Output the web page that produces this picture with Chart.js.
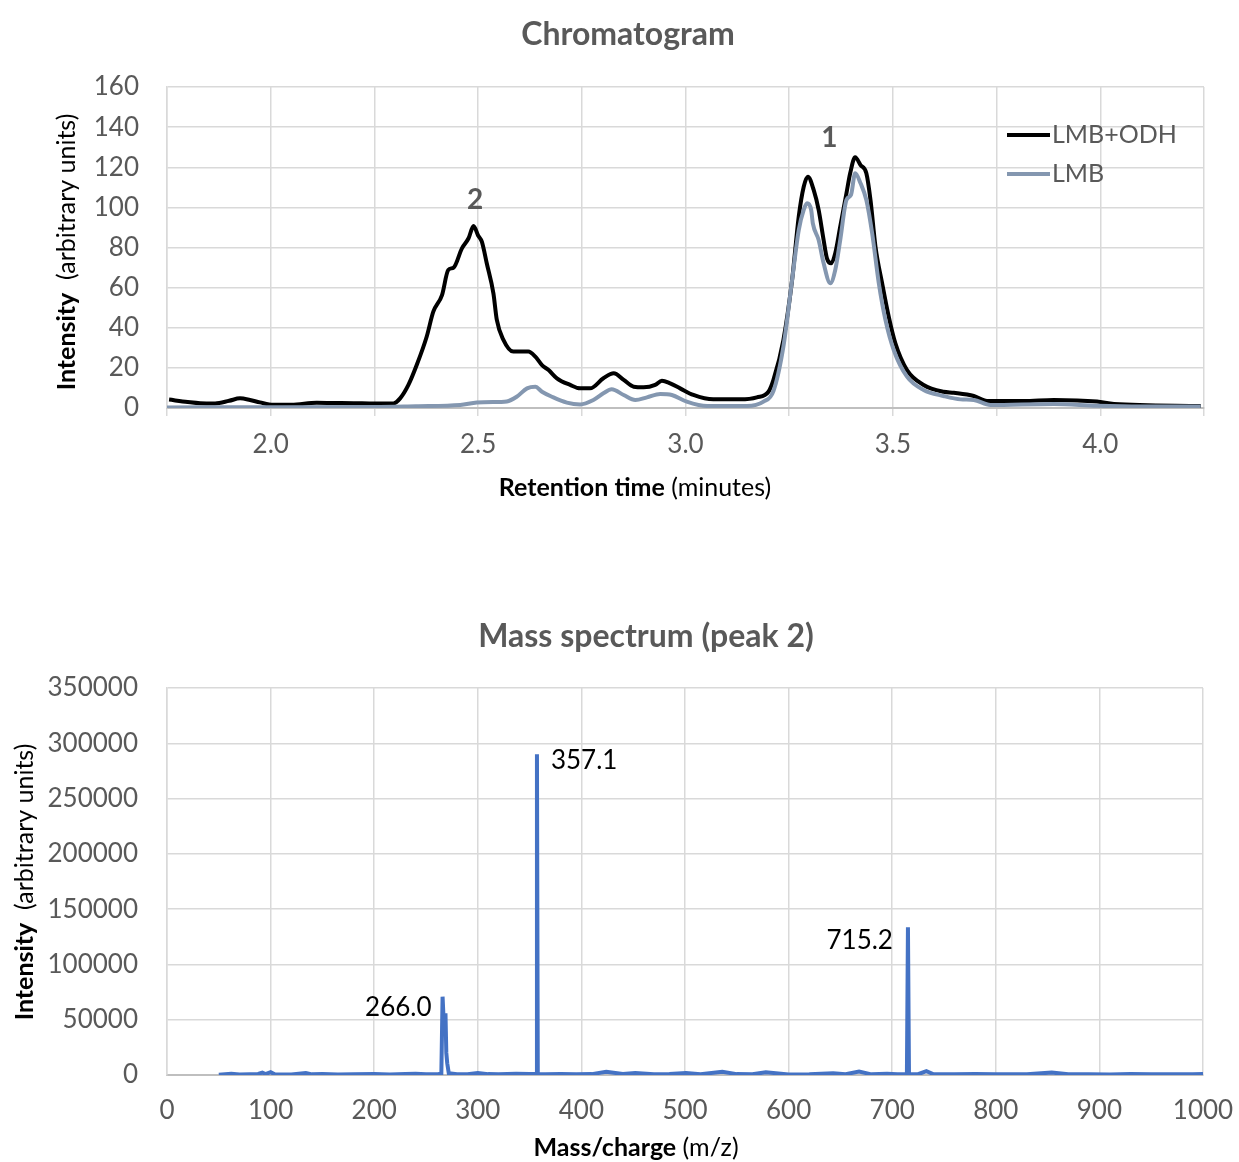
<!DOCTYPE html>
<html>
<head>
<meta charset="utf-8">
<script src="https://cdn.jsdelivr.net/npm/chart.js@4.4.1/dist/chart.umd.min.js"></script>
<style>
  body { margin: 0; background: #ffffff; }
  .box { position: absolute; left: 0; width: 1239px; }
  #box1 { top: 0; height: 520px; }
  #box2 { top: 600px; height: 562px; }
</style>
</head>
<body>
<div class="box" id="box1"><canvas id="chromChart" width="1239" height="520"></canvas></div>
<div class="box" id="box2"><canvas id="massChart" width="1239" height="562"></canvas></div>
<script>
// ================= DATA =================
// chromatogram, LMB+ODH (minutes / intensity)
const odhTime = [1.755, 1.80, 1.83, 1.866, 1.90, 1.926, 1.95, 1.974, 2.006, 2.05, 2.111, 2.15, 2.20, 2.25, 2.296,
  2.312, 2.332, 2.352, 2.376, 2.392, 2.413, 2.428, 2.441, 2.461, 2.477, 2.489, 2.50, 2.509, 2.521, 2.537,
  2.545, 2.561, 2.585, 2.621, 2.638, 2.654, 2.670, 2.690, 2.722, 2.746, 2.770, 2.802, 2.827, 2.851, 2.875,
  2.899, 2.927, 2.943, 2.963, 2.987, 3.019, 3.067, 3.132, 3.172, 3.200, 3.212, 3.236, 3.257, 3.273, 3.285,
  3.295, 3.309, 3.321, 3.333, 3.341, 3.351, 3.361, 3.373, 3.388, 3.397, 3.409, 3.422, 3.436, 3.446, 3.458,
  3.474, 3.490, 3.506, 3.534, 3.574, 3.622, 3.647, 3.695, 3.727, 3.815, 3.888, 3.992, 4.033, 4.242];
const odhValue = [4.2, 3.0, 2.4, 2.3, 3.6, 4.8, 4.0, 2.8, 1.6, 1.6, 2.6, 2.5, 2.4, 2.2, 2.3,
  4.8, 11.5, 21.4, 35.5, 48, 56.3, 68.8, 70, 79.6, 84.6, 90.7, 86, 82.9, 72, 57,
  44, 34, 28.1, 28.1, 25.6, 21.4, 18.9, 14.8, 11.5, 9.8, 9.8, 14.8, 17.3, 14, 10.6,
  10.3, 11.5, 13.6, 12.3, 9.8, 6.5, 4.3, 4.3, 5.3, 8.1, 14, 33.9, 63.8, 95.4, 110.3,
  115.3, 108.7, 98.7, 83.7, 74.6, 72.1, 77.1, 90.4, 107, 117, 125, 121.1, 117, 103.7, 80.4,
  62.2, 45.5, 32.2, 18.9, 11.5, 8.1, 7.6, 6, 3.5, 3.5, 4, 3.2, 2, 1];

// chromatogram, LMB
const lmbTime = [1.75, 2.00, 2.25, 2.35, 2.457, 2.497, 2.553, 2.569, 2.593, 2.618, 2.638, 2.654, 2.678, 2.714,
  2.746, 2.778, 2.802, 2.822, 2.851, 2.879, 2.907, 2.939, 2.967, 3.003, 3.052, 3.148, 3.188, 3.212, 3.236,
  3.257, 3.273, 3.285, 3.293, 3.303, 3.307, 3.321, 3.333, 3.349, 3.361, 3.373, 3.388, 3.399, 3.409, 3.422,
  3.436, 3.450, 3.466, 3.482, 3.502, 3.534, 3.574, 3.622, 3.663, 3.695, 3.735, 3.888, 3.992, 4.097, 4.242];
const lmbValue = [0.3, 0.4, 0.5, 0.9, 1.5, 2.7, 3.0, 3.2, 5.6, 9.8, 10.6, 8.1, 5.6, 2.7,
  1.8, 4, 7.3, 9.3, 6.5, 4, 5.3, 7, 6.5, 3.2, 1, 1, 3.2, 8.5, 30.6,
  63.8, 88.7, 98.7, 102, 98.7, 92, 83.7, 72.1, 62.2, 68.8, 83.7, 103.7, 106.2, 117, 112,
  103.7, 87.1, 62.2, 43.9, 28.9, 15.6, 9, 6, 4.3, 4, 1.5, 2, 1.1, 0.7, 0.7];

const seriesNames = ["LMB+ODH", "LMB"];
const peakTags = ["2", "1"];
const peakTagTime = [2.493, 3.347];
const peakTagLevel = [103.7, 134.6];

// mass spectrum of peak 2
const mzValues = [50, 62, 70, 80, 88, 92, 95, 100, 104, 120, 134, 140, 150, 165, 180, 200, 215, 230, 240, 250,
  262, 264.8, 266, 267.5, 268.8, 269.6, 270.5, 272, 280, 290, 300, 310, 320, 337, 350, 356.3, 357.1, 357.9, 365, 380,
  395, 410, 424, 440, 452, 470, 485, 501, 515, 536, 550, 565, 578, 600, 620, 643, 655, 668, 680, 695,
  705, 714.2, 715.2, 716.2, 725, 733, 740, 760, 780, 800, 830, 854, 870, 890, 910, 930, 950, 970, 990, 1000];
const intensityValues = [300, 1200, 400, 700, 900, 2200, 800, 2500, 600, 500, 1800, 600, 900, 500, 700, 800, 500, 900, 1200, 600,
  800, 1000, 70800, 40000, 55800, 20000, 10600, 1500, 700, 600, 1800, 800, 600, 1200, 800, 900, 290000, 900, 700, 1000,
  600, 800, 3000, 900, 1800, 600, 800, 1800, 700, 3000, 800, 600, 2500, 500, 600, 1500, 700, 3200, 600, 1200,
  600, 800, 133600, 800, 700, 3500, 700, 600, 800, 700, 600, 2200, 600, 700, 500, 800, 600, 700, 600, 800];

const massTags = ["266.0", "357.1", "715.2"];
const massTagMz = [266.0, 357.1, 715.2];
const massTagIntensity = [70800, 290000, 133600];

// ================= STYLE =================
const GREY_TEXT = "#595959";
const GRID = "#D9D9D9";
const FONT = "Lato";
Chart.defaults.font.family = FONT;

function toPoints(xs, ys) {
  return xs.map((x, i) => ({ x: x, y: ys[i] }));
}

// text with bold + regular parts, centred on (cx, cy)
function drawMixed(ctx, parts, cx, cy, angle) {
  ctx.save();
  ctx.translate(cx, cy);
  ctx.rotate(angle);
  let total = 0;
  parts.forEach(p => { ctx.font = p.font; total += ctx.measureText(p.text).width; });
  let x = -total / 2;
  ctx.textAlign = "left";
  ctx.textBaseline = "middle";
  ctx.fillStyle = "#000000";
  parts.forEach(p => {
    ctx.font = p.font;
    ctx.fillText(p.text, x, 0);
    x += ctx.measureText(p.text).width;
  });
  ctx.restore();
}

function drawTitle(ctx, text, cx, cy) {
  ctx.save();
  ctx.font = "bold 32px " + FONT;
  ctx.fillStyle = GREY_TEXT;
  ctx.textAlign = "center";
  ctx.textBaseline = "middle";
  ctx.fillText(text, cx, cy);
  ctx.restore();
}

// ================= CHROMATOGRAM =================
const chromExtras = {
  id: "chromExtras",
  afterDraw(chart) {
    const ctx = chart.ctx;
    const a = chart.chartArea;
    const xs = chart.scales.x, ys = chart.scales.y;

    drawTitle(ctx, "Chromatogram", 628, 35);
    drawMixed(ctx, [{ text: "Retention time", font: "bold 25px " + FONT }, { text: " (minutes)", font: "25px " + FONT }], 635, 488, 0);
    drawMixed(ctx, [{ text: "Intensity", font: "bold 25px " + FONT }, { text: "  (arbitrary units)", font: "25px " + FONT }], 67, 252, -Math.PI / 2);

    // peak numbers
    ctx.save();
    ctx.font = "bold 28px " + FONT;
    ctx.fillStyle = GREY_TEXT;
    ctx.textAlign = "center";
    ctx.textBaseline = "middle";
    peakTags.forEach((t, i) => {
      ctx.fillText(t, xs.getPixelForValue(peakTagTime[i]), ys.getPixelForValue(peakTagLevel[i]));
    });

    // legend inside the plot
    ctx.font = "25px " + FONT;
    ctx.textAlign = "left";
    chart.data.datasets.forEach((ds, i) => {
      const y = a.top + 48 + i * 39;
      ctx.strokeStyle = ds.borderColor;
      ctx.lineWidth = ds.borderWidth;
      ctx.beginPath();
      ctx.moveTo(a.right - 197, y);
      ctx.lineTo(a.right - 154, y);
      ctx.stroke();
      ctx.fillText(ds.label, a.right - 152, y);
    });
    ctx.restore();
  }
};

new Chart(document.getElementById("chromChart"), {
  type: "line",
  data: {
    datasets: [
      { label: seriesNames[0], data: toPoints(odhTime, odhValue), borderColor: "#000000", borderWidth: 4, order: 1 },
      { label: seriesNames[1], data: toPoints(lmbTime, lmbValue), borderColor: "#8497B0", borderWidth: 4, order: 0 }
    ]
  },
  options: {
    responsive: false,
    animation: false,
    layout: { padding: { left: 0, right: 35, top: 87, bottom: 0 } },
    elements: { point: { radius: 0 }, line: { cubicInterpolationMode: "monotone" } },
    plugins: {
      legend: { display: false },
      tooltip: { enabled: false },
      title: { display: false }
    },
    scales: {
      x: {
        type: "linear",
        min: 1.75,
        max: 4.25,
        afterFit: s => { s.height = 112; s.paddingLeft = 0; s.paddingRight = 0; },
        ticks: {
          stepSize: 0.25,
          color: GREY_TEXT,
          font: { size: 26 },
          padding: 13,
          maxRotation: 0,
          autoSkip: false,
          callback: v => (Math.abs(v * 2 - Math.round(v * 2)) < 1e-6 ? v.toFixed(1) : "")
        },
        grid: { color: GRID, lineWidth: 1.5, tickLength: 8 },
        border: { color: "#BFBFBF", width: 2 }
      },
      y: {
        min: 0,
        max: 160,
        afterFit: s => { s.width = 167; },
        ticks: { stepSize: 20, color: GREY_TEXT, font: { size: 26 }, padding: 28 },
        grid: { color: GRID, lineWidth: 1.5, drawTicks: false },
        border: { color: GRID, width: 1.5 }
      }
    }
  },
  plugins: [chromExtras]
});

// ================= MASS SPECTRUM =================
const massExtras = {
  id: "massExtras",
  afterDraw(chart) {
    const ctx = chart.ctx;
    const xs = chart.scales.x, ys = chart.scales.y;

    drawTitle(ctx, "Mass spectrum (peak 2)", 646, 37);
    drawMixed(ctx, [{ text: "Mass/charge", font: "bold 25px " + FONT }, { text: " (m/z)", font: "25px " + FONT }], 636, 548, 0);
    drawMixed(ctx, [{ text: "Intensity", font: "bold 25px " + FONT }, { text: "  (arbitrary units)", font: "25px " + FONT }], 25, 282, -Math.PI / 2);

    // peak m/z labels
    const offsets = [[-11, 11, "right"], [14, 6, "left"], [-15, 13, "right"]];
    ctx.save();
    ctx.font = "26px " + FONT;
    ctx.fillStyle = "#000000";
    ctx.textBaseline = "middle";
    massTags.forEach((t, i) => {
      ctx.textAlign = offsets[i][2];
      ctx.fillText(t, xs.getPixelForValue(massTagMz[i]) + offsets[i][0], ys.getPixelForValue(massTagIntensity[i]) + offsets[i][1]);
    });
    ctx.restore();
  }
};

new Chart(document.getElementById("massChart"), {
  type: "line",
  data: {
    datasets: [
      { label: "Mass spectrum", data: toPoints(mzValues, intensityValues), borderColor: "#4472C4", borderWidth: 4 }
    ]
  },
  options: {
    responsive: false,
    animation: false,
    layout: { padding: { left: 0, right: 36, top: 88, bottom: 0 } },
    elements: { point: { radius: 0 }, line: { tension: 0 } },
    plugins: {
      legend: { display: false },
      tooltip: { enabled: false },
      title: { display: false }
    },
    scales: {
      x: {
        type: "linear",
        min: 0,
        max: 1000,
        afterFit: s => { s.height = 87; s.paddingLeft = 0; s.paddingRight = 0; },
        ticks: { stepSize: 100, color: GREY_TEXT, font: { size: 26 }, padding: 20, maxRotation: 0, autoSkip: false, callback: v => String(v) },
        grid: { color: GRID, lineWidth: 1.5, drawTicks: false },
        border: { color: "#BFBFBF", width: 2 }
      },
      y: {
        min: 0,
        max: 350000,
        afterFit: s => { s.width = 167; },
        ticks: { stepSize: 50000, color: GREY_TEXT, font: { size: 26 }, padding: 29, callback: v => String(v) },
        grid: { color: GRID, lineWidth: 1.5, drawTicks: false },
        border: { color: GRID, width: 1.5 }
      }
    }
  },
  plugins: [massExtras]
});
</script>
</body>
</html>
